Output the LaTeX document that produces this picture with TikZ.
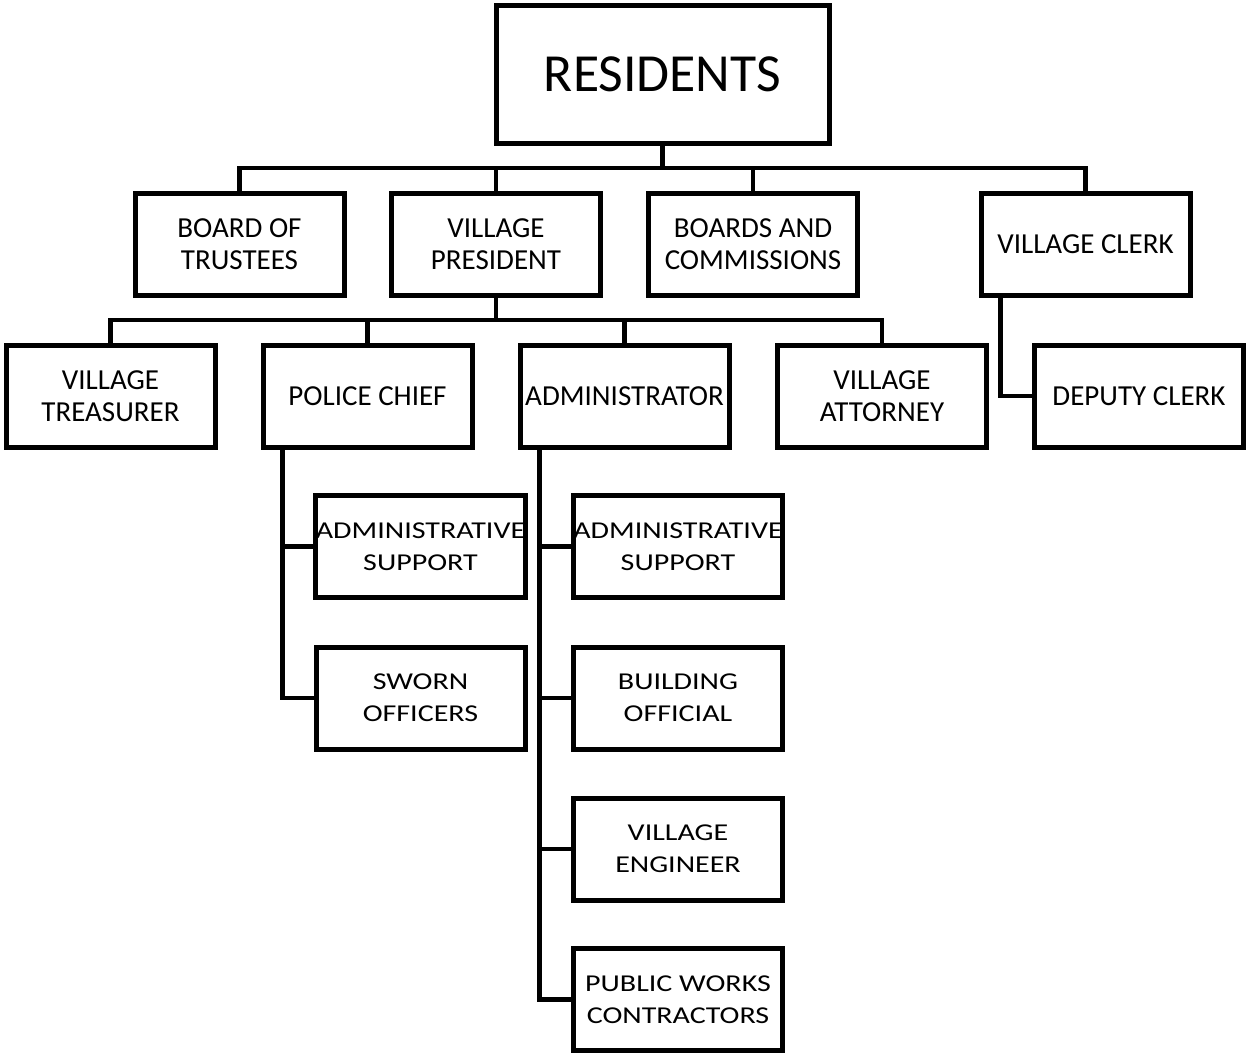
\documentclass[tikz,border=0pt]{standalone}
\usepackage{fontspec}
\setmainfont{Carlito}
\newfontfamily\widefont[FakeStretch=1.24]{Carlito}
\begin{document}
\begin{tikzpicture}[x=0.5pt,y=-0.5pt,
  box/.style={draw=black, line width=2.5pt, rectangle, inner sep=0pt,
    minimum width=104.5pt, minimum height=51pt, align=center,
    font=\fontsize{14.5}{16}\selectfont},
  lowbox/.style={box, font=\widefont\fontsize{12.1}{16}\selectfont},
  topbox/.style={box, minimum width=166.5pt, minimum height=69pt,
    font=\fontsize{26.8}{30}\selectfont},
  conn/.style={line width=2.3pt, line cap=rect, line join=miter}]
\useasboundingbox (0,0) rectangle (1247,1055);
\node[topbox] (res) at (662.5,74) {RESIDENTS};
\node[box] (bot) at (239.5,244) {BOARD OF\\TRUSTEES};
\node[box] (vp) at (496,244) {VILLAGE\\PRESIDENT};
\node[box] (bac) at (753,244) {BOARDS AND\\COMMISSIONS};
\node[box] (vc) at (1085.5,244) {VILLAGE CLERK};
\node[box] (vt) at (110.5,396) {VILLAGE\\TREASURER};
\node[box] (pc) at (367.5,396) {POLICE CHIEF};
\node[box] (adm) at (624.5,396) {ADMINISTRATOR};
\node[box] (va) at (882,396) {VILLAGE\\ATTORNEY};
\node[box] (dc) at (1139,396) {DEPUTY CLERK};
\node[lowbox] (pas) at (420.5,546.5) {ADMINISTRATIVE\\SUPPORT};
\node[lowbox] (so) at (420.5,698) {SWORN\\OFFICERS};
\node[lowbox] (aas) at (678,546.5) {ADMINISTRATIVE\\SUPPORT};
\node[lowbox] (bo) at (678,698) {BUILDING\\OFFICIAL};
\node[lowbox] (ve) at (678,849) {VILLAGE\\ENGINEER};
\node[lowbox] (pwc) at (678,999.5) {PUBLIC WORKS\\CONTRACTORS};
% level 1 bus
\coordinate (b1) at (0,168);
\draw[conn] (res.south) -- (res.south |- b1);
\draw[conn] (bot.north |- b1) -- (vc.north |- b1);
\foreach \n in {bot,vp,bac,vc} \draw[conn] (\n.north) -- (\n.north |- b1);
% level 2 bus
\coordinate (b2) at (0,320);
\draw[conn] (vp.south) -- (vp.south |- b2);
\draw[conn] (vt.north |- b2) -- (va.north |- b2);
\foreach \n in {vt,pc,adm,va} \draw[conn] (\n.north) -- (\n.north |- b2);
% clerk
\coordinate (ct) at ([xshift=11pt]vc.south west);
\draw[conn] (ct) |- (dc.west);
% police chief
\coordinate (pt) at ([xshift=11pt]pc.south west);
\draw[conn] (pt) |- (so.west);
\draw[conn] (pt |- pas.west) -- (pas.west);
% administrator
\coordinate (at) at ([xshift=11pt]adm.south west);
\draw[conn] (at) |- (pwc.west);
\foreach \n in {aas,bo,ve} \draw[conn] (at |- \n.west) -- (\n.west);
\end{tikzpicture}
\end{document}
